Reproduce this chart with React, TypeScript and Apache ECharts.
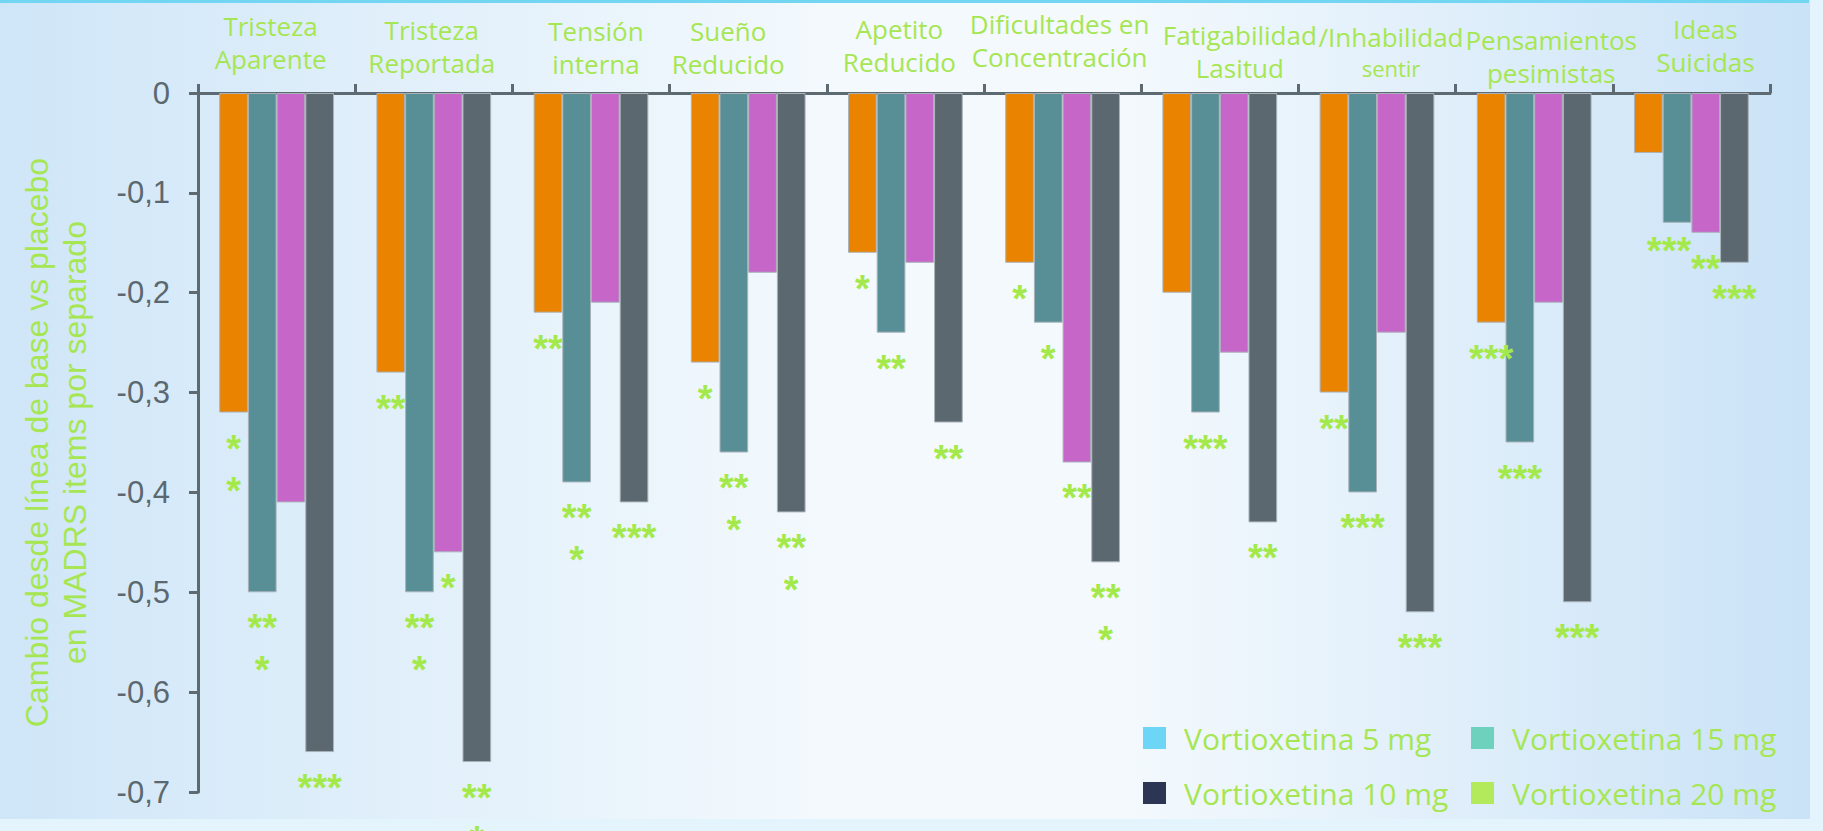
import React, { useEffect, useRef } from "react";
import * as echarts from "echarts";

// ---------- data ----------
const categories = [
  "Tristeza\nAparente",
  "Tristeza\nReportada",
  "Tensión\ninterna",
  "Sueño\nReducido",
  "Apetito\nReducido",
  "Dificultades en\nConcentración",
  "Fatigabilidad\nLasitud",
  "/Inhabilidad\nsentir",
  "Pensamientos\npesimistas",
  "Ideas\nSuicidas",
];

const seriesNames = [
  "Vortioxetina 5 mg",
  "Vortioxetina 10 mg",
  "Vortioxetina 15 mg",
  "Vortioxetina 20 mg",
];

const values5 = [-0.32, -0.28, -0.22, -0.27, -0.16, -0.17, -0.2, -0.3, -0.23, -0.06];
const values10 = [-0.5, -0.5, -0.39, -0.36, -0.24, -0.23, -0.32, -0.4, -0.35, -0.13];
const values15 = [-0.41, -0.46, -0.21, -0.18, -0.17, -0.37, -0.26, -0.24, -0.21, -0.14];
const values20 = [-0.66, -0.67, -0.41, -0.42, -0.33, -0.47, -0.43, -0.52, -0.51, -0.17];

const sig5 = ["*\n*", "**", "**", "*", "*", "*", "", "**", "***", ""];
const sig10 = ["**\n*", "**\n*", "**\n*", "**\n*", "**", "*", "***", "***", "***", "***"];
const sig15 = ["", "*", "", "", "", "**", "", "", "", "**"];
const sig20 = ["***", "**\n*", "***", "**\n*", "**", "**\n*", "**", "***", "***", "***"];

const yMin = -0.7;
const yMax = 0;
const yStep = 0.1;

const yTitle = "Cambio desde línea de base vs placebo\nen MADRS items por separado";

// ---------- styles ----------
const barColors = ["#E98300", "#588F97", "#C766C9", "#5B6870"];
const legendColors = ["#6DD5F5", "#2C3553", "#6ED1BE", "#B3EA5C"];
const green = "#A6E653";
const starGreen = "#A4E94C";
const axisColor = "#5E6A72";
// per-category label nudges (px): horizontal shift, vertical lift
const labelDx = [-6, -2, 5, -20, -6, -3, 20, 14, 17, 14];
const labelLift = [14, 10, 9, 9, 11, 16, 5, 6, 0, 11];
// per-series, per-category asterisk nudges [dx, dy] (only where the reference deviates)
const starOffsets: Record<string, [number, number]> = { "1-9": [-8, -8] };

export default function App() {
  const ref = useRef<HTMLDivElement>(null);

  useEffect(() => {
    if (!ref.current) return;
    const chart = echarts.init(ref.current, undefined, { renderer: "svg" });

    const valueSets = [values5, values10, values15, values20];
    const sigSets = [sig5, sig10, sig15, sig20];

    const series = seriesNames.map((name, i) => ({
      type: "bar",
      name,
      data: valueSets[i].map((v, j) => {
        const off = starOffsets[i + "-" + j];
        return off ? { value: v, label: { offset: off } } : v;
      }),
      barGap: "0%",
      barCategoryGap: "27%",
      itemStyle: { color: barColors[i], borderColor: "#A9B2B9", borderWidth: 1 },
      label: {
        show: true,
        position: "bottom",
        distance: 15,
        formatter: (p: any) => sigSets[i][p.dataIndex],
        color: starGreen,
        fontFamily: "Liberation Sans",
        fontWeight: "bold",
        fontSize: 38,
        lineHeight: 42,
      },
    }));

    const legendPos = [
      { left: 1143, top: 723 },
      { left: 1143, top: 778 },
      { left: 1471, top: 723 },
      { left: 1471, top: 778 },
    ];

    const legends = seriesNames.map((name, i) => ({
      data: [{ name, itemStyle: { color: legendColors[i], borderWidth: 0 } }],
      left: legendPos[i].left,
      top: legendPos[i].top,
      orient: "horizontal",
      icon: "rect",
      itemWidth: 23,
      itemHeight: 22,
      padding: 0,
      selectedMode: false,
      itemStyle: { borderWidth: 0 },
      textStyle: {
        color: green,
        fontFamily: "Open Sans",
        fontSize: 30,
        lineHeight: 30,
        padding: [0, 0, 0, 13],
      },
    }));

    const option: any = {
      animation: false,
      backgroundColor: new echarts.graphic.LinearGradient(0, 0, 1, 0, [
        { offset: 0, color: "#CFE6F8" },
        { offset: 0.45, color: "#F3F9FD" },
        { offset: 0.62, color: "#F3F9FD" },
        { offset: 1, color: "#C9E2F7" },
      ]),
      graphic: [
        { type: "rect", z: -10, shape: { x: 0, y: 0, width: 1809, height: 3 }, style: { fill: "#72D5F2" } },
        { type: "rect", z: -10, shape: { x: 1810, y: 0, width: 13, height: 831 }, style: { fill: "#E4F4FC" } },
        { type: "rect", z: -10, shape: { x: 0, y: 819, width: 1823, height: 12 }, style: { fill: "#E4F4FC" } },
      ],
      grid: { left: 198, right: 53, top: 93, bottom: 39, containLabel: false },
      legend: legends,
      xAxis: {
        type: "category",
        position: "top",
        data: categories.map((c, i) => ({
          value: c,
          textStyle: {
            padding: [0, Math.max(0, -2 * labelDx[i]), labelLift[i], Math.max(0, 2 * labelDx[i])],
          },
        })),
        axisLine: { show: true, lineStyle: { color: axisColor, width: 3 } },
        axisTick: { show: true, length: 9, lineStyle: { color: axisColor, width: 3 } },
        axisLabel: {
          interval: 0,
          color: green,
          fontFamily: "Open Sans",
          fontSize: 26,
          lineHeight: 33,
          margin: 4,
          formatter: (v: string) => {
            const parts = v.split("\n");
            if (parts[1] === "sentir") return parts[0] + "\n{s|" + parts[1] + "}";
            return v;
          },
          rich: {
            s: { fontFamily: "Open Sans", fontSize: 22, lineHeight: 30, color: green },
          },
        },
        splitLine: { show: false },
      },
      yAxis: {
        type: "value",
        min: yMin,
        max: yMax,
        interval: yStep,
        name: yTitle,
        nameLocation: "middle",
        nameRotate: 90,
        nameGap: 104,
        nameTextStyle: {
          color: green,
          fontFamily: "Liberation Sans",
          fontSize: 32,
          lineHeight: 38,
        },
        axisLine: { show: true, lineStyle: { color: axisColor, width: 3 } },
        axisTick: { show: true, length: 9, lineStyle: { color: axisColor, width: 3 } },
        axisLabel: {
          color: "#5C6870",
          fontFamily: "Liberation Sans",
          fontSize: 31,
          margin: 28,
          formatter: (v: number) => (Math.abs(v) < 1e-9 ? "0" : v.toFixed(1).replace(".", ",")),
        },
        splitLine: { show: false },
      },
      series,
    };

    chart.setOption(option);
    return () => chart.dispose();
  }, []);

  return (
    <div
      ref={ref}
      style={{ position: "fixed", left: 0, top: 0, width: 1823, height: 831 }}
    />
  );
}
